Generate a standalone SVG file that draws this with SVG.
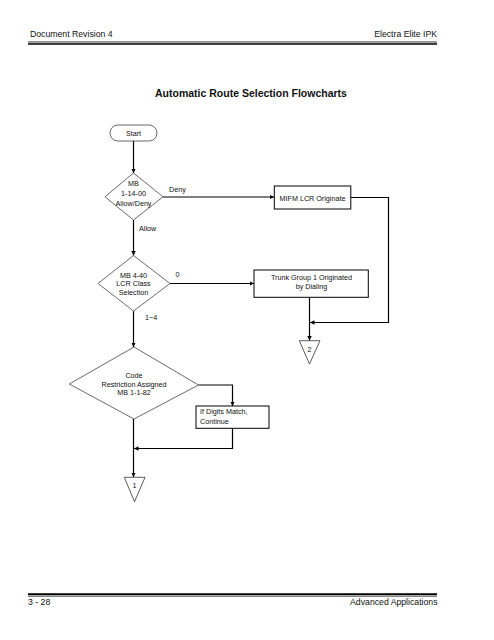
<svg xmlns="http://www.w3.org/2000/svg" width="494" height="640" viewBox="0 0 494 640">
<style>
text{font-family:"Liberation Sans",Arial,sans-serif;fill:#111}
.t{font-size:7.2px}
.c{text-anchor:middle}
.hdr{font-size:8.7px}
.dia{fill:#fff;stroke:#444;stroke-width:0.8}
.box{fill:#fff;stroke:#000;stroke-width:1}
.term{fill:#fff;stroke:#444;stroke-width:0.8}
.tri{fill:#fff;stroke:#333;stroke-width:0.8}
.ln{fill:none;stroke:#000;stroke-width:1.2}
</style>
<defs>
<marker id="ah" viewBox="0 0 10 10" refX="10" refY="5" markerWidth="4.5" markerHeight="4.5" orient="auto" markerUnits="userSpaceOnUse">
<path d="M0,0 L10,5 L0,10 z" fill="#000"/>
</marker>
</defs>
<rect width="494" height="640" fill="#fff"/>
<g id="header">
<text class="hdr" x="30" y="36.5">Document Revision 4</text>
<text class="hdr" x="437" y="36.5" text-anchor="end">Electra Elite IPK</text>
<line x1="28" y1="42" x2="437" y2="42" stroke="#000" stroke-width="0.8"/>
<line x1="28" y1="44" x2="437" y2="44" stroke="#000" stroke-width="1.6"/>
</g>
<g id="footer">
<line x1="28" y1="594.3" x2="437" y2="594.3" stroke="#000" stroke-width="2"/>
<line x1="28" y1="596.3" x2="437" y2="596.3" stroke="#000" stroke-width="0.6"/>
<text class="hdr" x="28" y="605">3 - 28</text>
<text class="hdr" x="437.5" y="605" text-anchor="end">Advanced Applications</text>
</g>
<text id="title" x="251" y="97" text-anchor="middle" font-size="10.5" font-weight="bold">Automatic Route Selection Flowcharts</text>
<g id="connectors">
<line class="ln" x1="133.5" y1="141" x2="133.5" y2="173" marker-end="url(#ah)"/>
<line class="ln" x1="163" y1="197" x2="274" y2="197" marker-end="url(#ah)"/>
<polyline class="ln" points="351,197.5 388.5,197.5 388.5,322.5 310,322.5" marker-end="url(#ah)"/>
<line class="ln" x1="309.5" y1="297.5" x2="309.5" y2="340.5" marker-end="url(#ah)"/>
<line class="ln" x1="133.5" y1="220" x2="133.5" y2="255.5" marker-end="url(#ah)"/>
<line class="ln" x1="170" y1="283.5" x2="254" y2="283.5" marker-end="url(#ah)"/>
<line class="ln" x1="133.5" y1="311" x2="133.5" y2="347" marker-end="url(#ah)"/>
<polyline class="ln" points="198.5,385 232.5,385 232.5,406" marker-end="url(#ah)"/>
<polyline class="ln" points="232.5,428.5 232.5,448.5 134,448.5" marker-end="url(#ah)"/>
<line class="ln" x1="133.5" y1="419" x2="133.5" y2="477" marker-end="url(#ah)"/>
<text class="t" x="169" y="192">Deny</text>
<text class="t" x="139" y="231">Allow</text>
<text class="t" x="175.5" y="276.5">0</text>
<text class="t" x="145" y="320">1~4</text>
</g>
<g id="start">
<rect class="term" x="110" y="125" width="47" height="16" rx="8"/>
<text class="t c" x="133.5" y="135.5">Start</text>
</g>
<g id="d1">
<polygon class="dia" points="133.5,173 163,196.8 133.5,220 105,196.8"/>
<text class="t c" x="133.5" y="185.5">MB</text>
<text class="t c" x="133.5" y="195.5">1-14-00</text>
<text class="t c" x="133.5" y="205.5">Allow/Deny</text>
</g>
<g id="mifm">
<rect class="box" x="274.3" y="186" width="76.5" height="23"/>
<text class="t c" x="312.5" y="200.5">MIFM LCR Originate</text>
</g>
<g id="d2">
<polygon class="dia" points="133.5,255.5 170,283.5 133.5,311 98,283.5"/>
<text class="t c" x="133.5" y="277.5">MB 4-40</text>
<text class="t c" x="133.5" y="286">LCR Class</text>
<text class="t c" x="133.5" y="294.5">Selection</text>
</g>
<g id="trunk">
<rect class="box" x="254" y="270" width="114.3" height="27.3"/>
<text class="t c" x="311.5" y="280.3">Trunk Group 1 Originated</text>
<text class="t c" x="311.5" y="289.3">by Dialing</text>
</g>
<g id="off2">
<polygon class="tri" points="299.3,340.7 320,340.7 309.5,364"/>
<text class="t c" x="309.5" y="352">2</text>
</g>
<g id="d3">
<polygon class="dia" points="134,347 198.5,385 134,419 69.3,384"/>
<text class="t c" x="134" y="377.5">Code</text>
<text class="t c" x="134" y="386.5">Restriction Assigned</text>
<text class="t c" x="134" y="395.2">MB 1-1-82</text>
</g>
<g id="digits">
<rect class="box" x="196" y="406" width="73" height="22.3"/>
<text class="t" x="200" y="414.2">If Digits Match,</text>
<text class="t" x="200" y="423.5">Continue</text>
</g>
<g id="off1">
<polygon class="tri" points="124.3,477.3 145,477.3 134.5,501.7"/>
<text class="t c" x="134.5" y="488">1</text>
</g>
</svg>
